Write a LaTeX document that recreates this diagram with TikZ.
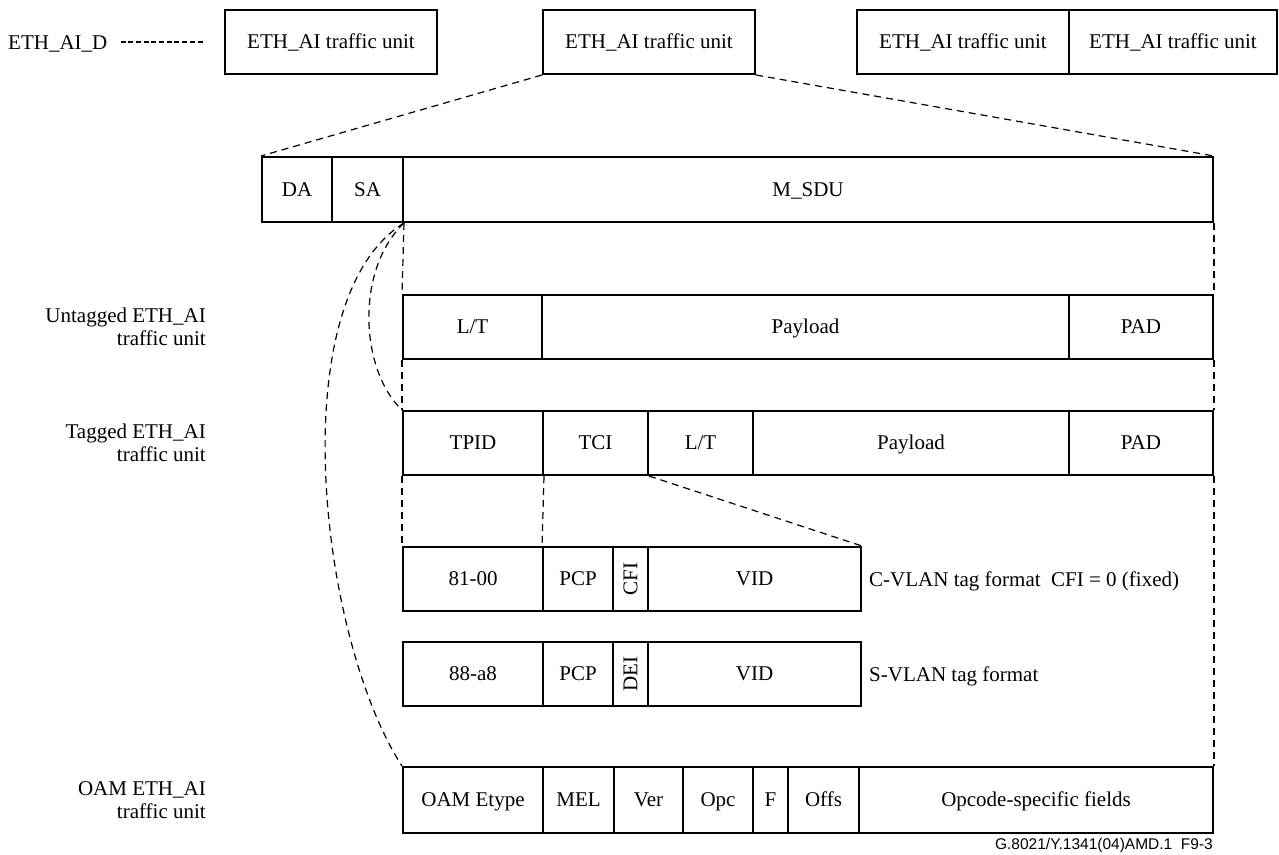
\documentclass[tikz,border=0pt]{standalone}
\usepackage{fontspec}
\setmainfont{Liberation Serif}
\newfontfamily\footfont{Liberation Sans}
\newcommand\fld[6]{\node[fld, minimum width={#4-#2}, minimum height={#5-#3}] (#1) at ({(#2+#4)/2},{(#3+#5)/2}) {#6};}
\newcommand\fldr[6]{\node[fldr, minimum width={#4-#2}, minimum height={#5-#3}] (#1) at ({(#2+#4)/2},{(#3+#5)/2}) {\rotatebox{90}{#6}};}
\begin{document}
\begin{tikzpicture}[x=1pt,y=-1pt,
  txt/.style={font=\fontsize{21}{23}\selectfont, text=black},
  fldr/.style={draw, line width=2pt, inner sep=0pt, txt, fill=white},
  fld/.style={fldr, text height=16pt, text depth=2.3pt},
  dsh/.style={draw, dash pattern=on 7pt off 5pt, line width=1.2pt},
  dshort/.style={draw, dash pattern=on 5pt off 2.7pt, line width=1.5pt},
  lbl/.style={txt, inner sep=0pt, align=right, anchor=east},
  side/.style={txt, inner sep=0pt, anchor=base west}]
\useasboundingbox (0,0) rectangle (1279,854);
% top row
\node[txt, inner sep=0pt, anchor=base west] (ethd) at (8,49) {ETH\_AI\_D};
\fld{t1}{225}{10}{437}{74}{ETH\_AI traffic unit}
\fld{t2}{543}{10}{755}{74}{ETH\_AI traffic unit}
\fld{t3}{857}{10}{1069}{74}{ETH\_AI traffic unit}
\fld{t4}{1069}{10}{1277}{74}{ETH\_AI traffic unit}
% MAC frame
\fld{da}{262}{157}{332}{222}{DA}
\fld{sa}{332}{157}{403}{222}{SA}
\fld{msdu}{403}{157}{1213}{222}{M\_SDU}
% untagged
\fld{ult}{403}{295}{542}{359}{L/T}
\fld{upay}{542}{295}{1069}{359}{Payload}
\fld{upad}{1069}{295}{1213}{359}{PAD}
% tagged
\fld{tpid}{403}{411}{543}{475}{TPID}
\fld{tci}{543}{411}{648}{475}{TCI}
\fld{tlt}{648}{411}{753}{475}{L/T}
\fld{tpay}{753}{411}{1069}{475}{Payload}
\fld{tpad}{1069}{411}{1213}{475}{PAD}
% C-VLAN
\fld{c81}{403}{547}{543}{611}{81-00}
\fld{cpcp}{543}{547}{613}{611}{PCP}
\fldr{ccfi}{613}{547}{648}{611}{CFI}
\fld{cvid}{648}{547}{861}{611}{VID}
% S-VLAN
\fld{s88}{403}{642}{543}{706}{88-a8}
\fld{spcp}{543}{642}{613}{706}{PCP}
\fldr{sdei}{613}{642}{648}{706}{DEI}
\fld{svid}{648}{642}{861}{706}{VID}
% OAM
\fld{oet}{403}{767}{543}{833}{OAM Etype}
\fld{mel}{543}{767}{614}{833}{MEL}
\fld{ver}{614}{767}{683}{833}{Ver}
\fld{opc}{683}{767}{753}{833}{Opc}
\fld{ff}{753}{767}{788}{833}{F}
\fld{offs}{788}{767}{859}{833}{Offs}
\fld{ocs}{859}{767}{1213}{833}{Opcode-specific fields}
% labels
\node[lbl] (lu) at (206,327) {Untagged ETH\_AI\\traffic unit};
\node[lbl] (lt) at (206,443) {Tagged ETH\_AI\\traffic unit};
\node[lbl] (lo) at (206,800) {OAM ETH\_AI\\traffic unit};
\node[side] (lc) at (869,586) {C-VLAN tag format\ \ CFI = 0 (fixed)};
\node[side] (ls) at (869,681) {S-VLAN tag format};
\node[inner sep=0pt, anchor=base east, font=\footfont\fontsize{15.5}{17}\selectfont] (foot) at (1213,849) {G.8021/Y.1341(04)AMD.1\ \ F9-3};
% connectors
\draw[dshort] ([xshift=13pt]ethd.east |- t1.west) -- ([xshift=-20pt]t1.west);
\draw[dsh] (t2.south west) -- (da.north west);
\draw[dsh] (t2.south east) -- (msdu.north east);
\draw[dsh] (sa.south east) -- (ult.north west);
\draw[dsh] (ult.south west) -- (tpid.north west);
\draw[dsh] (tpid.south west) -- (c81.north west);
\draw[dsh] (tpid.south east) -- (cpcp.north west);
\draw[dsh] (tci.south east) -- (cvid.north east);
\draw[dsh] (msdu.south east) -- (upad.north east);
\draw[dsh] (upad.south east) -- (tpad.north east);
\draw[dsh] (tpad.south east) -- (ocs.north east);
\draw[dsh] (sa.south east) .. controls (355,270) and (360,370) .. (tpid.north west);
\draw[dsh] (sa.south east) .. controls (280,300) and (320,640) .. (oet.north west);
\end{tikzpicture}
\end{document}
